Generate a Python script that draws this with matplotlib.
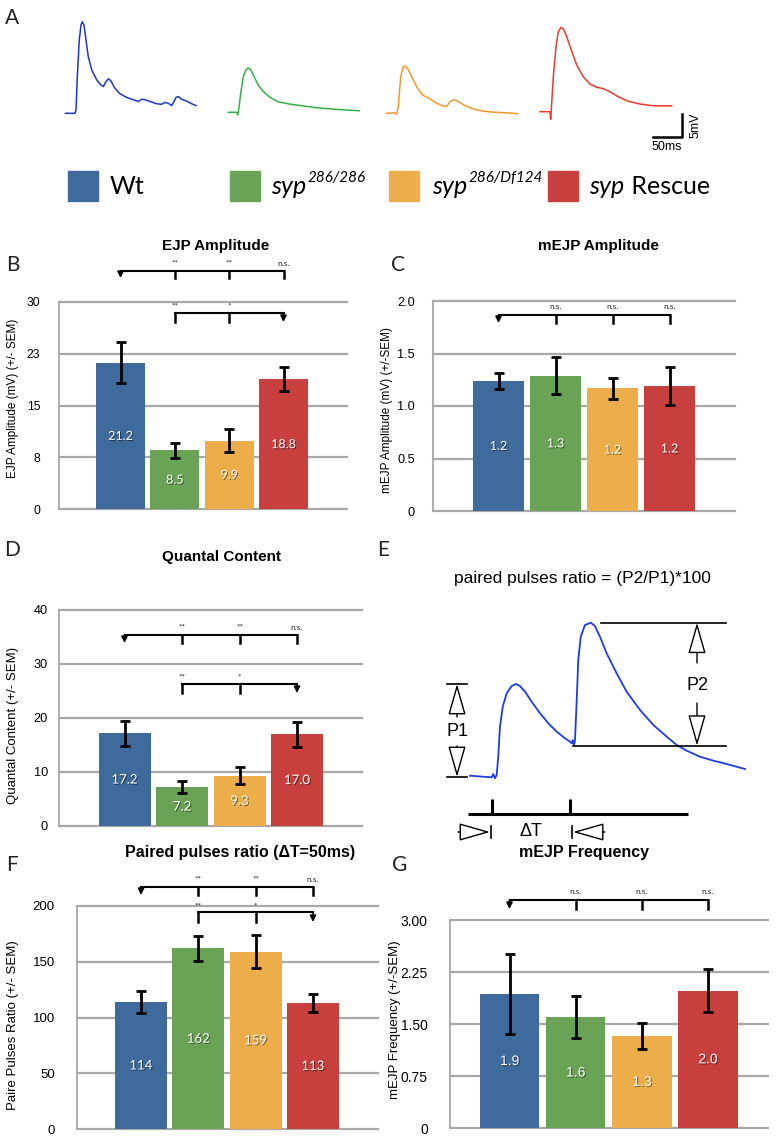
import numpy as np
import matplotlib.pyplot as plt
import matplotlib.patheffects as pe
from matplotlib.patches import Rectangle

BAR_COLORS = ['#3F6A9C', '#6BA356', '#EBAE4B', '#C8403D']
TRACE_COLORS = ['#1E36C8', '#34B14A', '#F5982C', '#E83A2E']
GRID = '#A8A8A8'

# ---------------- data ----------------
# legend entries: (italic part, superscript, roman part)
groups = [('', '', 'Wt'), ('syp', '286/286', ''), ('syp', '286/Df124', ''), ('syp', '', ' Rescue')]

# panel A: example EJP traces (ms, mV)
wt_t = [0, 7.6, 16, 17.7, 19.9, 23.2, 26.1, 28.3, 31.1, 34.5, 38.4, 44.1, 52.5, 59.3, 63.6,
        68.2, 72.1, 76.1, 83.3, 91.8, 103, 114.1, 122.6, 128.3, 133.8, 142.3, 153.5, 162,
        167.5, 173.1, 178.8, 182.7, 186, 189.9, 195.6, 204, 212.5, 219.7]
wt_v = [0, 0, 0, 0.7, 8.1, 16.2, 19.5, 20.2, 19.5, 16.2, 12.5, 9.6, 7.4, 6.3, 5.9,
        7.0, 7.6, 7.2, 5.5, 4.3, 3.5, 3.0, 2.6, 3.1, 3.0, 2.6, 2.1, 2.0,
        2.4, 2.2, 1.7, 2.6, 3.5, 3.7, 3.1, 2.7, 2.1, 1.7]
hom_t = [0, 14.1, 15.8, 17.5, 20.9, 25.3, 29.8, 33.7, 37.7, 43.3, 50.5, 58.9, 70.2, 84.2,
         103.9, 126.3, 148.8, 176.8, 199.3, 220.5]
hom_v = [0, 0, -0.6, 0.5, 4.2, 7.9, 9.4, 9.8, 9.4, 7.9, 6.0, 4.6, 3.3, 2.3,
         1.8, 1.4, 1.0, 0.7, 0.5, 0.35]
df_t = [0, 14, 16.8, 19.5, 23.6, 27.9, 32, 36.4, 42.1, 50.5, 60.6, 71.7, 84.2, 95.3, 101,
        106.6, 113.3, 120.5, 131.8, 145.8, 162.6, 185.2, 207.6, 220.5]
df_v = [0, 0.1, -0.2, 1.5, 8.1, 10.3, 10.4, 9.6, 8.1, 5.8, 4.0, 3.3, 2.2, 1.6, 1.5,
        2.6, 3.0, 2.6, 1.7, 0.95, 0.45, 0.2, 0.07, -0.1]
res_t = [0, 16.8, 18, 19, 22.4, 26.9, 30.8, 35.4, 39.2, 44.9, 53.4, 61.8, 72.9, 84.2, 95.5,
         106.6, 117.8, 131.8, 148.7, 168.4, 190.7, 207.6, 221.7]
res_v = [0, 0, -1.7, 0.4, 7.7, 14.3, 17.7, 18.6, 18.3, 16.6, 13.3, 10.3, 7.7, 6.1, 5.4,
         5.1, 4.4, 3.3, 2.3, 1.7, 1.3, 1.3, 1.3]

# panel E: paired pulse example (ms, mV)
pp_t = [-14.1, -5.6, -0.2, 0.8, 1.9, 3.0, 4.0, 5.1, 6.9, 9.4, 12.6, 15.4, 17.9, 21.2, 25.4,
        30.8, 36.1, 41.5, 46.8, 50.0, 51.1, 51.7, 52.6, 53.2, 54.3, 55.3, 56.9, 59.6, 63.3,
        66.0, 69.2, 73.5, 79.9, 86.3, 94.9, 103.4, 112.0, 118.4, 124.8, 133.3, 141.9, 150.4, 162.2]
pp_v = [0.13, 0.03, -0.03, 0.3, -0.13, 0.2, 2.03, 5.03, 7.03, 8.37, 9.1, 9.3, 9.1, 8.53, 7.53,
        6.37, 5.37, 4.53, 3.87, 3.53, 3.37, 3.7, 3.17, 3.7, 7.7, 11.7, 14.03, 15.2, 15.43,
        15.1, 14.03, 12.37, 10.37, 8.53, 6.7, 5.2, 4.03, 3.2, 2.63, 2.03, 1.63, 1.3, 0.8]
pp_base2 = 3.13
pp_dt = 50

# bar panels
ejp_amp = [21.2, 8.5, 9.9, 18.8]
ejp_sem = [3.0, 1.1, 1.7, 1.75]
mejp_amp = [1.24, 1.29, 1.17, 1.19]
mejp_sem = [0.075, 0.18, 0.10, 0.18]
quantal = [17.2, 7.2, 9.3, 17.0]
quantal_sem = [2.3, 1.1, 1.6, 2.3]
ppr = [114, 162, 159, 113]
ppr_sem = [10, 11, 15, 8]
mejp_freq = [1.93, 1.60, 1.33, 1.98]
mejp_freq_sem = [0.58, 0.30, 0.19, 0.31]

sig_vs_wt = ['**', '**', 'n.s.']
sig_vs_hom = ['**', '*']
ns3 = ['n.s.', 'n.s.', 'n.s.']

# ---------------- figure ----------------
W, H = 776, 1137
fig = plt.figure(figsize=(W / 100, H / 100), dpi=100)
renderer = fig.canvas.get_renderer()


def fbox(l, t, r, b):
    return [l / W, 1 - b / H, (r - l) / W, (b - t) / H]


def ftext(x, y, s, **kw):
    kw.setdefault('ha', 'center')
    kw.setdefault('va', 'center')
    return fig.text(x / W, 1 - y / H, s, **kw)


# panel letters
for lt, (x, y) in zip('ABCDEFG', [(12, 18), (13, 265), (398, 265), (12, 550),
                                   (383, 550), (12, 865), (400, 865)]):
    ftext(x, y, lt, fontsize=15, family='Lato', color='#222222')

# ---- A: traces ----
MS_PX, MV_PX = 0.594, 4.53
axa = fig.add_axes(fbox(0, 0, W, 160))
axa.set_xlim(0, W / MS_PX)
axa.set_ylim(0, 160 / MV_PX)
axa.set_axis_off()
origins = [(65.5, 113.3), (228.3, 112.3), (386.7, 113.3), (540, 111.7)]
for (t, v), (ox, oy), c in zip([(wt_t, wt_v), (hom_t, hom_v), (df_t, df_v), (res_t, res_v)],
                               origins, TRACE_COLORS):
    axa.plot(np.array(t) + ox / MS_PX, np.array(v) + (160 - oy) / MV_PX, color=c, lw=1.1)
cx, cy = 682.3 / MS_PX, (160 - 136.7) / MV_PX
axa.plot([cx - 50, cx, cx], [cy, cy, cy + 5], color='black', lw=1.8)
ftext(696, 125, '5mV', fontsize=9, rotation=90, family='Liberation Sans')
ftext(667, 147, '50ms', fontsize=9, family='Liberation Sans')

# legend row
for i, (x, tx) in enumerate(zip([68, 230, 389, 548], [110, 271, 432, 589])):
    fig.patches.append(Rectangle((x / W, 1 - 201 / H), 30 / W, 30 / H,
                                 transform=fig.transFigure, color=BAR_COLORS[i]))
    ital, sup, rom = groups[i]
    cur = tx
    if ital:
        t_ = ftext(cur, 186, ital, ha='left', fontsize=18, family='Lato', style='italic')
        cur += t_.get_window_extent(renderer).width + 1
    if sup:
        t_ = ftext(cur, 178, sup, ha='left', fontsize=11, family='Lato', style='italic')
        cur += t_.get_window_extent(renderer).width
    if rom:
        ftext(cur, 186, rom, ha='left', fontsize=18, family='Lato')


# ---- bar panels ----
def bar_panel(frame, centers, bar_w, vals, sems, ymax, ticklabels, tick_fs, tick_pad,
              val_family, val_fs, fmt):
    l, t, r, b = frame
    ax = fig.add_axes(fbox(l, t, r, b))
    step = (centers[-1] - centers[0]) / 3
    ax.set_xlim((l - centers[0]) / step, (r - centers[0]) / step)
    ax.set_ylim(0, ymax)
    ticks = np.linspace(0, ymax, len(ticklabels))
    for yv in ticks:
        ax.axhline(yv, color=GRID, lw=1.6, zorder=1, clip_on=False)
    x = np.arange(len(vals))
    ax.bar(x, vals, width=bar_w / step, color=BAR_COLORS, zorder=2)
    ax.errorbar(x, vals, yerr=sems, fmt='none', ecolor='black', elinewidth=2,
                capsize=3.5, capthick=2, zorder=3)
    shadow = [pe.withSimplePatchShadow(offset=(0.8, -0.8), shadow_rgbFace='black', alpha=0.45)]
    for xi, v in zip(x, vals):
        ax.text(xi, v / 2, fmt.format(v), ha='center', va='center', color='white',
                fontsize=val_fs, family=val_family, path_effects=shadow, zorder=4)
    ax.set_yticks(ticks, ticklabels)
    ax.set_xticks([])
    ax.tick_params(axis='y', length=0, pad=tick_pad, labelsize=tick_fs)
    for lab in ax.get_yticklabels():
        lab.set_family('Liberation Sans')
    for s in ['top', 'right', 'bottom']:
        ax.spines[s].set_visible(False)
    ax.spines['left'].set_color(GRID)
    ax.spines['left'].set_linewidth(1.3)
    ax.set_facecolor('none')
    return ax


def bracket(ax, frame, ymax, py, py_tick, py_lab, start, ticks, arrow_at, marks):
    l, t, r, b = frame
    to_y = lambda p: (b - p) / (b - t) * ymax
    y, yt, yl = to_y(py), to_y(py_tick), to_y(py_lab)
    ax.plot([start, 3], [y, y], color='black', lw=1.5, clip_on=False, zorder=5,
            solid_capstyle='projecting')
    for i in ticks:
        ax.plot([i, i], [y, yt], color='black', lw=1.8, clip_on=False, zorder=5)
    ax.annotate('', xy=(arrow_at, yt), xytext=(arrow_at, y),
                arrowprops=dict(arrowstyle='-|>,head_length=0.6,head_width=0.3', color='black',
                                lw=1.2, mutation_scale=6, shrinkA=0, shrinkB=0),
                annotation_clip=False)
    for i, m in zip(ticks, marks):
        ax.text(i, yl, m, ha='center', va='center', fontsize=6, family='Lato', color='#222222')


# B
fB = (59, 302, 347, 509)
axB = bar_panel(fB, [120.5, 175, 229.5, 283.5], 49, ejp_amp, ejp_sem, 30,
                ['0', '8', '15', '23', '30'], 8.7, 13.5, 'Lato', 9, '{:.1f}')
bracket(axB, fB, 30, 271, 278, 263, 0, [1, 2, 3], 0, sig_vs_wt)
bracket(axB, fB, 30, 313, 322, 306, 1, [1, 2], 3, sig_vs_hom)
ftext(216, 246, 'EJP Amplitude', fontsize=11, fontweight='bold', family='Liberation Sans')
ftext(13, 398, 'EJP Amplitude (mV) (+/- SEM)', rotation=90, fontsize=8.5, family='Liberation Sans')

# C
fC = (433, 301, 735, 511)
axC = bar_panel(fC, [498.5, 555.5, 612.5, 669.5], 51, mejp_amp, mejp_sem, 2.0,
                ['0', '0.5', '1.0', '1.5', '2.0'], 9.2, 13, 'Lato', 9, '{:.1f}')
bracket(axC, fC, 2.0, 315, 323, 306, 0, [1, 2, 3], 0, ns3)
ftext(598, 246, 'mEJP Amplitude', fontsize=11, fontweight='bold', family='Liberation Sans')
ftext(387, 410, 'mEJP Amplitude (mV) (+/-SEM)', rotation=90, fontsize=8.5, family='Liberation Sans')

# D
fD = (59, 610, 362, 826)
axD = bar_panel(fD, [124.5, 182, 239, 297], 52, quantal, quantal_sem, 40,
                ['0', '10', '20', '30', '40'], 9.2, 8, 'Lato', 9.5, '{:.1f}')
bracket(axD, fD, 40, 635, 643, 627, 0, [1, 2, 3], 0, sig_vs_wt)
bracket(axD, fD, 40, 684, 693, 677, 1, [1, 2], 3, sig_vs_hom)
ftext(222, 557, 'Quantal Content', fontsize=11, fontweight='bold', family='Liberation Sans')
ftext(13, 725, 'Quantal Content (+/- SEM)', rotation=90, fontsize=9.5, family='Liberation Sans')

# F
fF = (77, 906, 378, 1129)
axF = bar_panel(fF, [141, 198.5, 256, 313], 52, ppr, ppr_sem, 200,
                ['0', '50', '100', '150', '200'], 9.5, 16, 'Lato', 9.5, '{:.0f}')
bracket(axF, fF, 200, 887, 895, 879, 0, [1, 2, 3], 0, sig_vs_wt)
bracket(axF, fF, 200, 912, 922, 906, 1, [1, 2], 3, sig_vs_hom)
ftext(240, 853, 'Paired pulses ratio (\u0394T=50ms)', fontsize=11.5, fontweight='bold',
      family='Liberation Sans')
ftext(13, 1025, 'Paire Pulses Ratio (+/- SEM)', rotation=90, fontsize=9.5, family='Liberation Sans')

# G
fG = (450, 920, 768, 1128)
axG = bar_panel(fG, [509.5, 576, 642, 708], 59.5, mejp_freq, mejp_freq_sem, 3.0,
                ['0', '0.75', '1.50', '2.25', '3.00'], 10, 16, 'Liberation Sans', 10, '{:.1f}')
bracket(axG, fG, 3.0, 900, 909, 892, 0, [1, 2, 3], 0, ns3)
ftext(584, 853, 'mEJP Frequency', fontsize=11.5, fontweight='bold', family='Liberation Sans')
ftext(395, 1020, 'mEJP Frequency (+/-SEM)', rotation=90, fontsize=9.5, family='Liberation Sans')

# ---- E: paired pulse schematic ----
E_X0, E_PX_MS, E_Y0, E_PX_MV = 492, 1.56, 777, 10.0
axE = fig.add_axes(fbox(390, 560, 776, 850))
axE.set_xlim((390 - E_X0) / E_PX_MS, (776 - E_X0) / E_PX_MS)
axE.set_ylim((E_Y0 - 850) / E_PX_MV, (E_Y0 - 560) / E_PX_MV)
axE.set_axis_off()
axE.plot(pp_t, pp_v, color='#1E3CE6', lw=1.3)
ftext(582, 578, 'paired pulses ratio = (P2/P1)*100', fontsize=12.5, family='Liberation Sans')

ex = lambda px: (px - E_X0) / E_PX_MS
ey = lambda py: (E_Y0 - py) / E_PX_MV
pp_t_a, pp_v_a = np.array(pp_t), np.array(pp_v)
p1_peak = pp_v_a[pp_t_a < pp_dt].max()
p2_peak = pp_v_a.max()
open_head = dict(arrowstyle='-|>,head_length=1.4,head_width=0.4', fc='white', ec='black',
                 lw=1.0, mutation_scale=14, shrinkA=0, shrinkB=0)
# P1
axE.plot([ex(447), ex(467)], [p1_peak, p1_peak], color='black', lw=1.2)
axE.plot([ex(447), ex(467)], [0, 0], color='black', lw=1.2)
axE.annotate('', xy=(ex(457), p1_peak), xytext=(ex(457), ey(717)), arrowprops=open_head)
axE.annotate('', xy=(ex(457), 0), xytext=(ex(457), ey(746)), arrowprops=open_head)
axE.text(ex(457), ey(732), 'P1', ha='center', va='center', fontsize=13, family='Liberation Sans')
# P2
axE.plot([ex(601), ex(726)], [p2_peak, p2_peak], color='black', lw=1.2)
axE.plot([ex(573), ex(726)], [pp_base2, pp_base2], color='black', lw=1.2)
axE.annotate('', xy=(ex(697), p2_peak), xytext=(ex(697), ey(663)), arrowprops=open_head)
axE.annotate('', xy=(ex(697), pp_base2), xytext=(ex(697), ey(703)), arrowprops=open_head)
axE.text(ex(697), ey(685), 'P2', ha='center', va='center', fontsize=13, family='Liberation Sans')
# time bar
axE.plot([ex(468), ex(688)], [ey(814), ey(814)], color='black', lw=2.2, solid_capstyle='butt')
for tt in [0, pp_dt]:
    axE.plot([tt, tt], [ey(814), ey(799)], color='black', lw=2.2, solid_capstyle='butt')
axE.text(pp_dt / 2, ey(832), '\u0394T', ha='center', va='center', fontsize=13,
         family='Liberation Sans')
axE.annotate('', xy=(ex(490), ey(832)), xytext=(ex(458), ey(832)), arrowprops=open_head)
axE.plot([ex(491), ex(491)], [ey(826), ey(838)], color='black', lw=1.2)
axE.annotate('', xy=(ex(573), ey(832)), xytext=(ex(605), ey(832)), arrowprops=open_head)
axE.plot([ex(572), ex(572)], [ey(826), ey(838)], color='black', lw=1.2)

fig.savefig('out.png', dpi=100)
